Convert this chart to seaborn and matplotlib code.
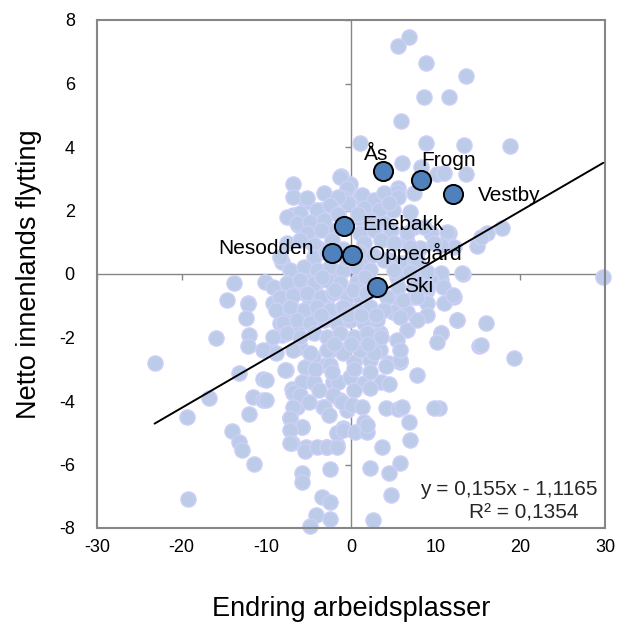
import matplotlib
matplotlib.use("Agg")
import matplotlib.pyplot as plt
import seaborn as sns
import numpy as np
import pandas as pd

# ---------------- data ----------------
x_vals = [
    # top / outliers
    6.9, 5.5, 8.9, 8.6, 5.9, 1.1, 8.9, 6.0, 8.3, -1.2, -6.9, -0.15, 5.5, 10.2,
    13.6, 11.6, 13.3, 18.8, 11.0, 13.6,
    11.6, 16.1, 17.8, 14.9, 12.2, 13.2, 29.8, 10.6, 12.2, 11.0, 12.5, 15.9, 10.6, 15.1, 19.2, 10.4,
    -23.2, -13.2, -10.4, -16.8, -11.6, -10.4, -19.4, -12.1, -14.0, -13.2, -12.9, -11.4, -19.3,
    # upper-left zone
    -1.3, -0.5, -5.3, -1.0, -3.5, -6.8, -3.5, -6.3, -2.5, -5.3, -4.7, -3.9, -2.3,
    -8.2, -6.6, -4.5, -13.8, -10.2, -8.2, -14.7, -12.2, -9.2, -6.0, -7.2, -4.9, -2.9, -4.1, -2.1, -1.3,
    # lower-left zone
    -12.2, -12.4, -16.0, -12.0, -12.2, -9.6, -8.4, -8.1, -7.7, -7.0, -6.4, -7.2, -5.8, -7.0,
    -1.7, -0.9, -5.3, -2.9, -1.7, -10.4,
    -7.6, -6.4, -5.3, -4.1, -2.9, -1.3, -6.0, -4.5, -2.5, -0.9, -5.3, -2.9, -4.5, -2.1,
    -6.8, -6.0, -3.3, -1.3, -0.5,
    # bottom zone
    -7.8, -5.4, -2.5, 0.3, 2.3, 4.4, 5.8, 7.8, 9.8, -10.0, -10.0, -5.8, -4.4, -1.5, -0.1, 1.5, 3.5, 4.5,
    -6.8, -6.0, -3.8, -2.1, 0.3, 2.3, -6.8, -5.0, -3.2, -1.1, 0.1, 1.3, 4.1, 5.5, 6.0,
    -2.6, -7.2, -5.8, -7.2, -1.7, -0.9, 0.5, 1.5, 1.9, 1.9, 6.8, 7.0,
    -7.2, -5.4, -4.0, -2.8, -1.7, 3.7, 5.8, 4.5, 2.2, -2.5, -5.8, -5.8, 4.7, -3.4, -2.5, -4.1, -2.5, -4.9, 2.6,
    # right of core
    5.4, 5.0, 2.5, 1.1, 1.5, -0.3, 7.0, 11.3, 9.4, 7.4, 6.6, 8.2, 10.6, 15.3, 4.6, 4.6, 6.4, 8.2,
    10.6, 13.1, 5.4, 7.6, 9.4, 10.9, 12.1, 9.0, 7.4, 9.0, 5.8, 5.0, 6.6, 9.0, 12.5, 10.6, 10.2,
    6.6, 5.4, 3.4, 3.4, 5.8, 15.3, 4.1,
    # dense core
    -6.8, -5.2, -3.2, -1.5, 1.3, 2.7, 3.9, 5.5, 7.4, 1.5, 3.3, 4.5, -4.0, -2.5, -6.0, -7.6,
    -6.4, -4.8, -3.2, 0.9, 2.3, 3.9, -5.2, -3.6, 1.1, 2.7, 4.7, 6.6, 8.6,
    -7.6, -6.0, -4.4, 1.5, 3.5, 5.1, 7.0, 9.8,
    -8.4, -4.4, 1.9, 3.9, 5.8, 7.8, -7.2, -5.6, -4.0, -2.5, -0.9, 0.7, 2.3, 5.1, 7.0, 9.0,
    -9.2, -7.6, -6.0, -4.4, -2.8, -1.3, 0.7, 5.5, 7.4, 9.0,
    -8.4, -6.8, -5.2, -3.6, -2.1, -0.5, 1.1, 4.3, 6.2, 7.8,
    -8.8, -7.2, -5.6, -4.0, -2.5, -0.9, 0.7, 2.3, 3.9,
    -8.0, -6.4, -4.8, -3.2, -1.7, -0.1, 1.5, 3.1, 5.8, 7.8,
    -9.2, -7.6, -6.0, -4.4, -2.8, -1.3, 0.3, 1.9, 3.5,
    -8.8, -6.8, -4.8, -2.8, -0.9, 1.1, 2.7, 5.8,
    # extra fill in the dense centre
    -1.9, 0.2, 1.8, 3.0, -3.6, -0.3, 1.2, 2.9, -2.0, 0.0, 2.0, -3.0, -1.0, 1.0, 2.6,
    -4.2, -2.2, 0.4, 2.2, -1.5, 0.8, -3.4, -0.6, 1.6,
]
y_vals = [
    7.46, 7.18, 6.65, 5.57, 4.83, 4.12, 4.14, 3.49, 3.38, 3.09, 2.83, 2.83, 2.71, 3.15,
    6.24, 5.57, 4.06, 4.03, 3.17, 3.15,
    1.28, 1.28, 1.44, 0.88, 0.86, -0.01, -0.1, -0.19, -0.71, -0.92, -1.45, -1.55, -1.87, -2.27, -2.66, -4.23,
    -2.8, -3.11, -3.32, -3.9, -3.86, -3.97, -4.49, -4.41, -4.93, -5.28, -5.54, -5.98, -7.1,
    3.07, 2.7, 2.28, 2.38, 2.02, 1.86, 1.7, 1.54, 1.39, 1.23, 1.02, 0.81, 1.07,
    0.39, -0.03, -0.03, -0.29, -0.24, -0.45, -0.82, -0.9, -0.9, -0.56, -0.92, -0.87, -0.92, -0.29, -0.24, 0.02,
    -0.95, -1.4, -2.03, -1.92, -2.27, -2.37, -1.53, -1.92, -3.02, -3.63, -4.18, -4.55, -4.81, -5.33,
    -5.02, -4.86, -5.44, -5.44, -5.39, -2.39,
    -1.34, -1.71, -1.45, -1.24, -1.03, -1.13, -2.29, -2.6, -2.39, -2.39, -2.97, -2.87, -3.39, -3.39,
    -3.76, -3.86, -4.18, -3.97, -4.28,
    -3.02, -2.92, -2.87, -2.76, -2.71, -2.79, -2.76, -3.18, -4.23, -3.34, -3.97, -3.39, -3.39, -3.39, -3.23, -3.44, -3.39, -3.46,
    -3.71, -3.81, -3.65, -3.81, -3.65, -3.6, -4.18, -4.02, -4.18, -4.02, -4.13, -4.18, -4.23, -4.26, -4.18,
    -4.44, -4.55, -4.81, -4.91, -5.0, -4.91, -4.97, -4.65, -4.97, -4.76, -4.65, -5.23,
    -5.33, -5.56, -5.46, -5.46, -5.46, -5.46, -5.96, -6.26, -6.12, -6.15, -6.26, -6.54, -6.96, -7.01, -7.17, -7.59, -7.73, -7.94, -7.75,
    2.59, 2.02, 2.28, 2.43, 2.02, 2.23, 1.96, 1.33, 1.28, 1.49, 1.02, 0.81, 0.91, 1.18, 1.07, 0.44, 0.34, 0.23,
    0.02, 0.02, -0.08, -0.14, -0.19, -0.4, -0.66, -0.5, -0.71, -0.92, -0.82, -1.19, -1.19, -1.29, -1.45, -1.87, -2.13,
    -1.76, -2.08, -1.87, -2.39, -2.71, -2.24, -2.9,
    2.43, 2.38, 2.54, 2.43, 2.49, 2.33, 2.54, 2.43, 2.54, 2.07, 2.02, 2.23, 2.02, 2.17, 1.91, 1.8,
    1.6, 1.65, 1.7, 1.75, 1.7, 1.6, 1.28, 1.39, 1.28, 1.39, 1.39, 1.28, 1.49,
    0.97, 1.07, 0.91, 0.97, 1.07, 0.97, 0.86, 0.97,
    0.55, 0.55, 0.55, 0.44, 0.34, 0.44, 0.13, 0.23, 0.13, 0.23, 0.13, 0.23, 0.13, 0.13, 0.07, 0.07,
    -0.4, -0.29, -0.19, -0.29, -0.19, -0.29, -0.24, -0.4, -0.4, -0.4,
    -0.71, -0.66, -0.61, -0.71, -0.61, -0.71, -0.71, -0.71, -0.82, -0.71,
    -1.13, -1.03, -1.13, -1.03, -1.13, -1.03, -1.13, -1.03, -1.13,
    -1.55, -1.45, -1.55, -1.45, -1.55, -1.45, -1.55, -1.45, -1.34, -1.45,
    -1.97, -1.87, -1.97, -1.87, -1.97, -1.87, -1.97, -1.87, -1.97,
    -2.5, -2.39, -2.5, -2.39, -2.5, -2.39, -2.5, -2.39,
    -0.5, -0.5, -0.6, -0.5, -1.3, -1.3, -1.3, -1.3, -2.2, -2.2, -2.2, 0.7, 0.8, 0.7, 0.6,
    -3.0, -3.1, -3.0, -3.1, 1.9, 1.9, -0.1, 0.5, -0.1,
]

kommuner = ["Ås", "Frogn", "Vestby", "Enebakk", "Nesodden", "Oppegård", "Ski"]
komm_x = [3.8, 8.3, 12.0, -0.8, -2.3, 0.1, 3.1]
komm_y = [3.25, 2.95, 2.52, 1.5, 0.67, 0.6, -0.4]

slope = 0.155
intercept = -1.1165
eq_text = "y = 0,155x - 1,1165"
r2_text = "R² = 0,1354"

xticks = [-30, -20, -10, 0, 10, 20, 30]
yticks = [-8, -6, -4, -2, 0, 2, 4, 6, 8]

df = pd.DataFrame({"x": x_vals, "y": y_vals})
dk = pd.DataFrame({"x": komm_x, "y": komm_y, "navn": kommuner})

# ---------------- plot ----------------
sns.set_style("white")
plt.rcParams["font.family"] = ["Liberation Sans", "DejaVu Sans"]

fig = plt.figure(figsize=(6.32, 6.25), dpi=100)
ax = fig.add_axes([97 / 632, 1 - 528 / 625, 508 / 632, 508 / 625])

gray = "#868686"
ax.axhline(0, color=gray, lw=1.0, zorder=1)
ax.axvline(0, color=gray, lw=1.0, zorder=1)
ax.plot(xticks, [0] * len(xticks), linestyle="none", marker=3, markersize=4,
        color=gray, markeredgewidth=1.0, zorder=1)
ax.plot([0] * len(yticks), yticks, linestyle="none", marker=0, markersize=4,
        color=gray, markeredgewidth=1.0, zorder=1)

sns.scatterplot(data=df, x="x", y="y", ax=ax, s=120, color="#bccbe7",
                edgecolor="#cdd0f8", linewidth=1.0, zorder=2, clip_on=False)

xr = np.array([min(x_vals), max(x_vals)])
ax.plot(xr, slope * xr + intercept, color="black", lw=1.4, zorder=3)

sns.scatterplot(data=dk, x="x", y="y", ax=ax, s=190, color="#4f81bd",
                edgecolor="black", linewidth=1.4, zorder=4)

offsets = {
    "Ås": (-5, 12, "center"),
    "Frogn": (20, 14, "center"),
    "Vestby": (18, -1, "left"),
    "Enebakk": (13, 1, "left"),
    "Nesodden": (-13, 3, "right"),
    "Oppegård": (12, 1, "left"),
    "Ski": (19, 0, "left"),
}
for n, xv, yv in zip(kommuner, komm_x, komm_y):
    dx, dy, ha = offsets[n]
    ax.annotate(n, (xv, yv), xytext=(dx, dy), textcoords="offset points",
                ha=ha, va="center", fontsize=15, color="black", zorder=5)

ax.text(0.985, 0.075, eq_text, transform=ax.transAxes, ha="right", va="center", fontsize=15)
ax.text(0.84, 0.03, r2_text, transform=ax.transAxes, ha="center", va="center", fontsize=15)

ax.set_xlim(-30, 30)
ax.set_ylim(-8, 8)
ax.set_xticks(xticks)
ax.set_yticks(yticks)
ax.set_xticklabels([str(t) for t in xticks], fontsize=13, color="black")
ax.set_yticklabels([str(t) for t in yticks], fontsize=13, color="black")
ax.tick_params(axis="x", length=0, pad=8)
ax.tick_params(axis="y", length=0, pad=16)
for sp in ax.spines.values():
    sp.set_color(gray)
    sp.set_linewidth(1.5)

ax.set_xlabel("")
fig.text(351 / 632, 1 - 616 / 625, "Endring arbeidsplasser", ha="center",
         va="baseline", fontsize=19.5, color="black")
ax.set_ylabel("Netto innenlands flytting", fontsize=19.5, labelpad=12, color="black")

fig.savefig("out.png", dpi=100)
